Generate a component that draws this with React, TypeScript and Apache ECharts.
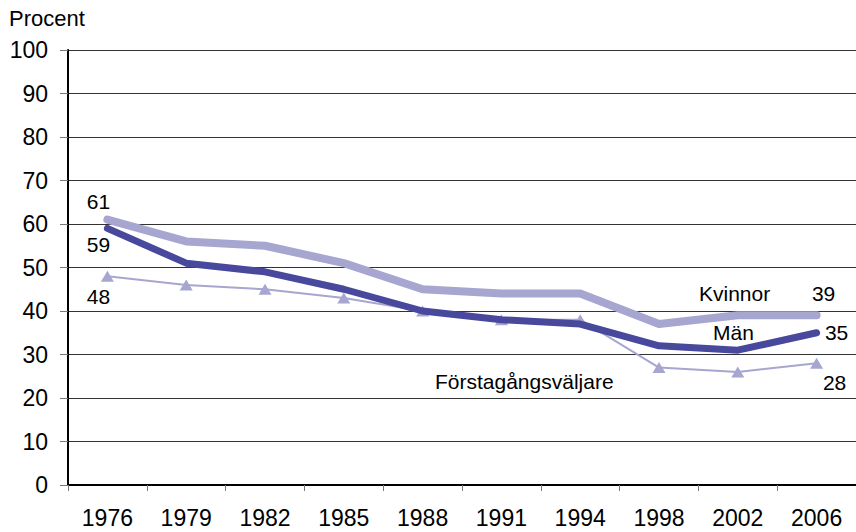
import React, { useEffect, useRef } from "react";
import * as echarts from "echarts";

const years = ["1976", "1979", "1982", "1985", "1988", "1991", "1994", "1998", "2002", "2006"];
const kvinnor = [61, 56, 55, 51, 45, 44, 44, 37, 39, 39];
const man = [59, 51, 49, 45, 40, 38, 37, 32, 31, 35];
const forsta = [48, 46, 45, 43, 40, 38, 38, 27, 26, 28];

const FONT = "'Liberation Sans', Arial, sans-serif";

function withEndLabels(vals: number[], first: number[], last: number[]) {
  const base = {
    show: true,
    position: "inside",
    align: "center",
    verticalAlign: "middle",
    color: "#000",
    fontSize: 21,
    fontFamily: FONT,
  };
  return vals.map((v, i) => {
    if (i === 0) return { value: v, label: { ...base, offset: first } };
    if (i === vals.length - 1) return { value: v, label: { ...base, offset: last } };
    return v;
  });
}

export default function App() {
  const ref = useRef<HTMLDivElement>(null);
  useEffect(() => {
    if (!ref.current) return;
    const chart = echarts.init(ref.current, undefined, { renderer: "svg" });
    const nameStyle = { fontSize: 21, fontFamily: FONT, fill: "#000", verticalAlign: "middle", align: "left" };
    chart.setOption({
      animation: false,
      grid: { left: 68, right: 0, top: 50, bottom: 47, containLabel: false },
      xAxis: {
        type: "category",
        data: years,
        boundaryGap: true,
        axisLine: { lineStyle: { color: "#000", width: 2 } },
        axisTick: { show: true, length: 6, lineStyle: { color: "#777" } },
        axisLabel: { color: "#000", fontSize: 23, fontFamily: FONT, margin: 21 },
      },
      yAxis: {
        type: "value",
        min: 0,
        max: 100,
        interval: 10,
        axisLine: { show: true, lineStyle: { color: "#000", width: 2 } },
        axisTick: { show: true, length: 8, lineStyle: { color: "#777" } },
        axisLabel: { color: "#000", fontSize: 23, fontFamily: FONT, margin: 20 },
        splitLine: { lineStyle: { color: "#333", width: 1 } },
      },
      graphic: [
        { type: "text", x: 9, y: 18, style: { ...nameStyle, text: "Procent", fontSize: 22 } },
        { type: "text", x: 699, y: 293, style: { ...nameStyle, text: "Kvinnor" } },
        { type: "text", x: 713, y: 332, style: { ...nameStyle, text: "Män" } },
        { type: "text", x: 435, y: 381, style: { ...nameStyle, text: "Förstagångsväljare" } },
      ],
      series: [
        {
          name: "Förstagångsväljare",
          type: "line",
          data: withEndLabels(forsta, [-9, 20], [18, 19]),
          lineStyle: { color: "#a6a6d0", width: 2 },
          itemStyle: { color: "#a6a6d0" },
          symbol: "triangle",
          symbolSize: [13, 11],
          z: 3,
        },
        {
          name: "Män",
          type: "line",
          data: withEndLabels(man, [-9, 16], [20, 0]),
          lineStyle: { color: "#48489c", width: 7, cap: "round", join: "round" },
          itemStyle: { color: "#48489c" },
          symbol: "circle",
          symbolSize: 0.1,
          z: 4,
        },
        {
          name: "Kvinnor",
          type: "line",
          data: withEndLabels(kvinnor, [-9, -18], [7, -22]),
          lineStyle: { color: "#a6a6d0", width: 8, cap: "round", join: "round" },
          itemStyle: { color: "#a6a6d0" },
          symbol: "circle",
          symbolSize: 0.1,
          z: 2,
        },
      ],
    });
    return () => chart.dispose();
  }, []);
  return <div ref={ref} style={{ width: 856, height: 532, position: "absolute", left: 0, top: 0 }} />;
}
